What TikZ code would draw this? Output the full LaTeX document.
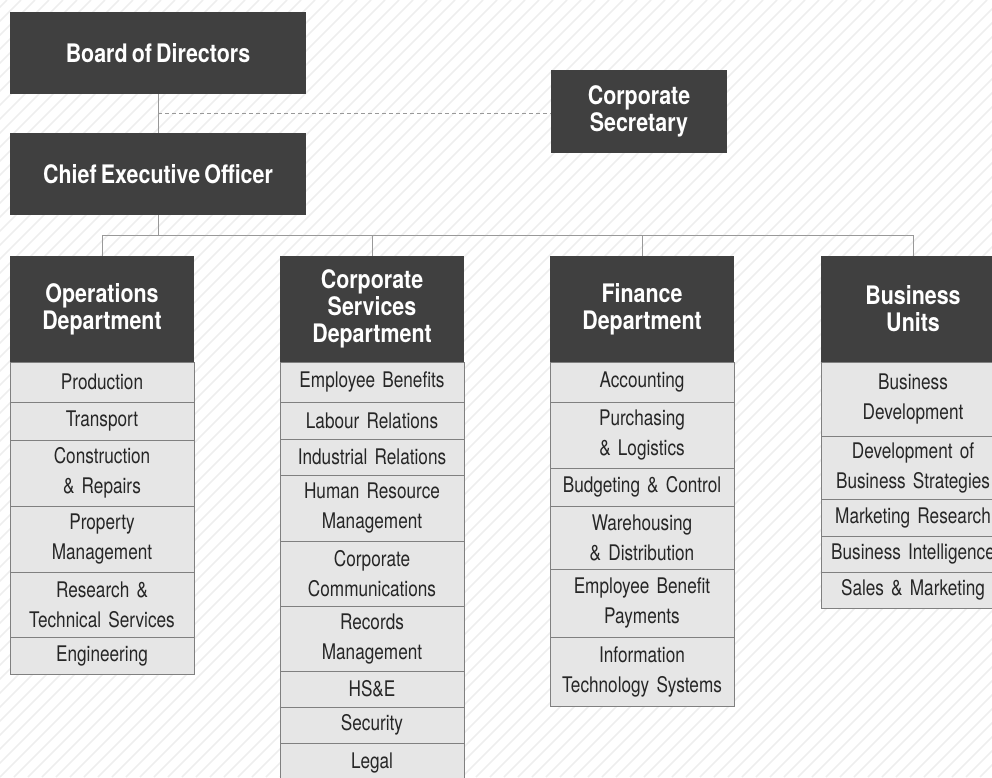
\documentclass[tikz,border=0pt]{standalone}
\usepackage{fontspec}
\setmainfont{TeX Gyre Heros}[FakeStretch=0.8,WordSpace=0.6]
\newfontfamily\headfont{TeX Gyre Heros}[FakeStretch=0.84,WordSpace=0.7]
\usetikzlibrary{positioning, calc}
\definecolor{boxdark}{HTML}{404040}
\definecolor{boxlight}{HTML}{E6E6E6}
\definecolor{hatchgray}{HTML}{EEEEEE}
\definecolor{linegray}{HTML}{999999}
\definecolor{rimgray}{HTML}{808080}

\begin{document}
\begin{tikzpicture}[x=1pt,y=-1pt,
    head/.style={fill=boxdark,text=white,align=center,inner sep=0pt,outer sep=0pt,
      font=\headfont\fontsize{25.5}{27}\selectfont\bfseries},
    dept/.style={head,minimum width=184pt,minimum height=106pt,text width=180pt},
    item/.style={draw=rimgray,line width=1pt,fill=boxlight,text=black!85,align=center,
      inner sep=0pt,outer sep=0pt,minimum width=184pt,text width=180pt,
      font=\fontsize{21.5}{30}\selectfont},
    link/.style={draw=linegray,line width=1pt}]
    \useasboundingbox (0,0) rectangle (992,777);
    \clip (0,0) rectangle (992,777);
    % hatched background
    \foreach \i in {-784,-770,...,1000}
      \draw[draw=hatchgray,line width=1.5pt] (\i,777) -- ++(777,-777);

    \node [head,minimum width=296pt,minimum height=82pt] (board) at (158,53) {Board of Directors};
    \node [head,minimum width=296pt,minimum height=82pt] (ceo) at (158,174) {Chief Executive Officer};
    \node [head,minimum width=176pt,minimum height=83pt] (sec) at (639,111.5) {Corporate\\Secretary};

    \node [dept] (ops) at (102,309) {Operations\\Department};
    \node [dept] (csd) at (372,309) {Corporate\\Services\\Department};
    \node [dept] (fin) at (642,309) {Finance\\Department};
    \node [dept] (bu) at (913,309) {Business\\Units};

    % operations
    \node [item,minimum height=40pt,below=0pt of ops] (ops1) {Production};
    \node [item,minimum height=38pt,below=0pt of ops1] (ops2) {Transport};
    \node [item,minimum height=66pt,below=0pt of ops2] (ops3) {Construction\\\& Repairs};
    \node [item,minimum height=66pt,below=0pt of ops3] (ops4) {Property\\Management};
    \node [item,minimum height=65pt,below=0pt of ops4] (ops5) {Research \&\\Technical Services};
    \node [item,minimum height=37pt,below=0pt of ops5] (ops6) {Engineering};

    % corporate services
    \node [item,minimum height=40pt,below=0pt of csd] (csd1) {Employee Benefits};
    \node [item,minimum height=37pt,below=0pt of csd1] (csd2) {Labour Relations};
    \node [item,minimum height=36pt,below=0pt of csd2] (csd3) {Industrial Relations};
    \node [item,minimum height=66pt,below=0pt of csd3] (csd4) {Human Resource\\Management};
    \node [item,minimum height=65pt,below=0pt of csd4] (csd5) {Corporate\\Communications};
    \node [item,minimum height=65pt,below=0pt of csd5] (csd6) {Records\\Management};
    \node [item,minimum height=36pt,below=0pt of csd6] (csd7) {HS\&E};
    \node [item,minimum height=36pt,below=0pt of csd7] (csd8) {Security};
    \node [item,minimum height=40pt,below=0pt of csd8] (csd9) {Legal};

    % finance
    \node [item,minimum height=40pt,below=0pt of fin] (fin1) {Accounting};
    \node [item,minimum height=66pt,below=0pt of fin1] (fin2) {Purchasing\\\& Logistics};
    \node [item,minimum height=38pt,below=0pt of fin2] (fin3) {Budgeting \& Control};
    \node [item,minimum height=63pt,below=0pt of fin3] (fin4) {Warehousing\\\& Distribution};
    \node [item,minimum height=68pt,below=0pt of fin4] (fin5) {Employee Benefit\\Payments};
    \node [item,minimum height=69pt,below=0pt of fin5] (fin6) {Information\\Technology Systems};

    % business units
    \node [item,minimum height=74pt,below=0pt of bu] (bu1) {Business\\Development};
    \node [item,minimum height=63pt,below=0pt of bu1] (bu2) {Development of\\Business Strategies};
    \node [item,minimum height=37pt,below=0pt of bu2] (bu3) {Marketing Research};
    \node [item,minimum height=36pt,below=0pt of bu3] (bu4) {Business Intelligence};
    \node [item,minimum height=36pt,below=0pt of bu4] (bu5) {Sales \& Marketing};

    \coordinate (mid) at ($(board.south)!0.5!(ceo.north)$);
    \coordinate (bus) at (158,235);
    \draw [link] (board) -- (ceo);
    \draw [link,dash pattern=on 4pt off 3pt] (mid) -- (mid -| sec.west);
    \draw [link] (ceo.south) -- (bus);
    \draw [link] (ops.north) |- (bus);
    \draw [link] (csd.north) |- (bus);
    \draw [link] (fin.north) |- (bus);
    \draw [link] (bu.north) |- (bus);
\end{tikzpicture}
\end{document}
